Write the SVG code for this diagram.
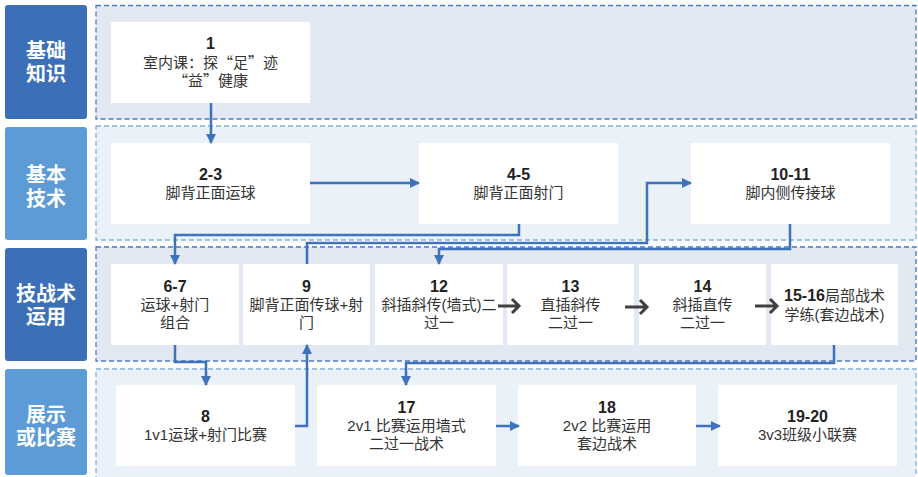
<svg xmlns="http://www.w3.org/2000/svg" width="918" height="477" viewBox="0 0 918 477">
<defs>
<style>
.lblD{fill:#3b6fb7}
.lblL{fill:#5d9bd6}
.lt{font-family:"Liberation Sans","Noto Sans CJK SC",sans-serif;font-size:20px;font-weight:bold;fill:#ffffff;text-anchor:middle}
.bandD{fill:#e3e9f3;stroke:#4a7bc2;stroke-width:1.3;stroke-dasharray:5,3}
.bandL{fill:#eaf1f9;stroke:#80b1e0;stroke-width:1.3;stroke-dasharray:5,3}
.box{fill:#ffffff}
.tx{font-family:"Liberation Sans","Noto Sans CJK SC",sans-serif;font-size:15px;fill:#333333;text-anchor:middle}
.n{font-family:"Liberation Sans","Noto Sans CJK SC",sans-serif;font-size:16px;font-weight:bold;fill:#222222;text-anchor:middle}
.q{font-family:"Noto Sans CJK SC",sans-serif}
.con{fill:none;stroke:#3e72bd;stroke-width:2.5}
.dark{fill:none;stroke:#404040;stroke-width:3}
</style>
<marker id="ah" viewBox="0 0 10 10" refX="9" refY="5" markerWidth="4" markerHeight="4" markerUnits="strokeWidth" orient="auto">
<path d="M0,0 L10,5 L0,10 z" fill="#3e72bd"/>
</marker>
</defs>

<g id="bands">
<rect class="bandD" x="96" y="5.5" width="820" height="113.5"/>
<rect class="bandL" x="96" y="126" width="820" height="114"/>
<rect class="bandD" x="96" y="247" width="820" height="114"/>
<rect class="bandL" x="96" y="369" width="820" height="112"/>
</g>

<g id="label-1"><rect class="lblD" x="5" y="5" width="82" height="114" rx="3"/><text class="lt" x="46" y="58">基础</text><text class="lt" x="46" y="80.5">知识</text></g>
<g id="label-2"><rect class="lblL" x="5" y="127" width="82" height="113" rx="3"/><text class="lt" x="46" y="182">基本</text><text class="lt" x="46" y="206">技术</text></g>
<g id="label-3"><rect class="lblD" x="5" y="248" width="82" height="113" rx="3"/><text class="lt" x="46" y="301">技战术</text><text class="lt" x="46" y="324">运用</text></g>
<g id="label-4"><rect class="lblL" x="5" y="369" width="82" height="106" rx="3"/><text class="lt" x="46" y="422">展示</text><text class="lt" x="46" y="445">或比赛</text></g>

<g id="node-1"><rect class="box" x="111" y="22" width="199" height="81"/><text class="n" x="210.5" y="49">1</text><text class="tx" x="210.5" y="68">室内课：探<tspan class="q">“</tspan>足<tspan class="q">”</tspan>迹</text><text class="tx" x="210.5" y="86"><tspan class="q">“</tspan>益<tspan class="q">”</tspan>健康</text></g>
<g id="node-2-3"><rect class="box" x="111" y="143" width="199" height="81"/><text class="n" x="210.5" y="180">2-3</text><text class="tx" x="210.5" y="198">脚背正面运球</text></g>
<g id="node-4-5"><rect class="box" x="419" y="143" width="199" height="81"/><text class="n" x="518.5" y="180">4-5</text><text class="tx" x="518.5" y="198">脚背正面射门</text></g>
<g id="node-10-11"><rect class="box" x="691" y="143" width="199" height="81"/><text class="n" x="790.5" y="180">10-11</text><text class="tx" x="790.5" y="198">脚内侧传接球</text></g>

<g id="node-6-7"><rect class="box" x="111" y="264" width="128" height="81"/><text class="n" x="175" y="292">6-7</text><text class="tx" x="175" y="310">运球+射门</text><text class="tx" x="175" y="328">组合</text></g>
<g id="node-9"><rect class="box" x="243" y="264" width="127" height="81"/><text class="n" x="306.5" y="292">9</text><text class="tx" x="306.5" y="310">脚背正面传球+射</text><text class="tx" x="306.5" y="328">门</text></g>
<g id="node-12"><rect class="box" x="375" y="264" width="128" height="81"/><text class="n" x="439" y="292">12</text><text class="tx" x="439" y="310">斜插斜传(墙式)二</text><text class="tx" x="439" y="328">过一</text></g>
<g id="node-13"><rect class="box" x="507" y="264" width="127" height="81"/><text class="n" x="570.5" y="292">13</text><text class="tx" x="570.5" y="310">直插斜传</text><text class="tx" x="570.5" y="328">二过一</text></g>
<g id="node-14"><rect class="box" x="639" y="264" width="127" height="81"/><text class="n" x="702.5" y="292">14</text><text class="tx" x="702.5" y="310">斜插直传</text><text class="tx" x="702.5" y="328">二过一</text></g>
<g id="node-15-16"><rect class="box" x="771" y="264" width="127" height="81"/><text class="tx" x="834.5" y="301"><tspan font-weight="bold" font-size="16" fill="#222222">15-16</tspan>局部战术</text><text class="tx" x="834.5" y="320">学练(套边战术)</text></g>

<g id="node-8"><rect class="box" x="116" y="385" width="179" height="81"/><text class="n" x="205.5" y="422">8</text><text class="tx" x="205.5" y="440">1v1运球+射门比赛</text></g>
<g id="node-17"><rect class="box" x="317" y="385" width="179" height="81"/><text class="n" x="406.5" y="413">17</text><text class="tx" x="406.5" y="431">2v1 比赛运用墙式</text><text class="tx" x="406.5" y="449">二过一战术</text></g>
<g id="node-18"><rect class="box" x="518" y="385" width="178" height="81"/><text class="n" x="607" y="413">18</text><text class="tx" x="607" y="431">2v2 比赛运用</text><text class="tx" x="607" y="449">套边战术</text></g>
<g id="node-19-20"><rect class="box" x="718" y="385" width="179" height="81"/><text class="n" x="807.5" y="422">19-20</text><text class="tx" x="807.5" y="440">3v3班级小联赛</text></g>

<g id="connectors">
<path class="con" d="M211,103 V143" marker-end="url(#ah)"/>
<path class="con" d="M310,183 H419" marker-end="url(#ah)"/>
<path class="con" d="M519,224 V235 H175 V264" marker-end="url(#ah)"/>
<path class="con" d="M307,264 V243 H647 V183 H691" marker-end="url(#ah)"/>
<path class="con" d="M790,224 V249 H439 V264" marker-end="url(#ah)"/>
<path class="con" d="M175,345 V362 H206 V385" marker-end="url(#ah)"/>
<path class="con" d="M295,426 H307 V345" marker-end="url(#ah)"/>
<path class="con" d="M834,345 V363 H406 V385" marker-end="url(#ah)"/>
<path class="con" d="M496,426 H519" marker-end="url(#ah)"/>
<path class="con" d="M696,426 H720" marker-end="url(#ah)"/>
<path class="dark" d="M498,306 H519 M512,299 L519,306 L512,313"/>
<path class="dark" d="M625,307 H647 M640,300 L647,307 L640,314"/>
<path class="dark" d="M755,306 H777 M770,299 L777,306 L770,313"/>
</g>
</svg>
